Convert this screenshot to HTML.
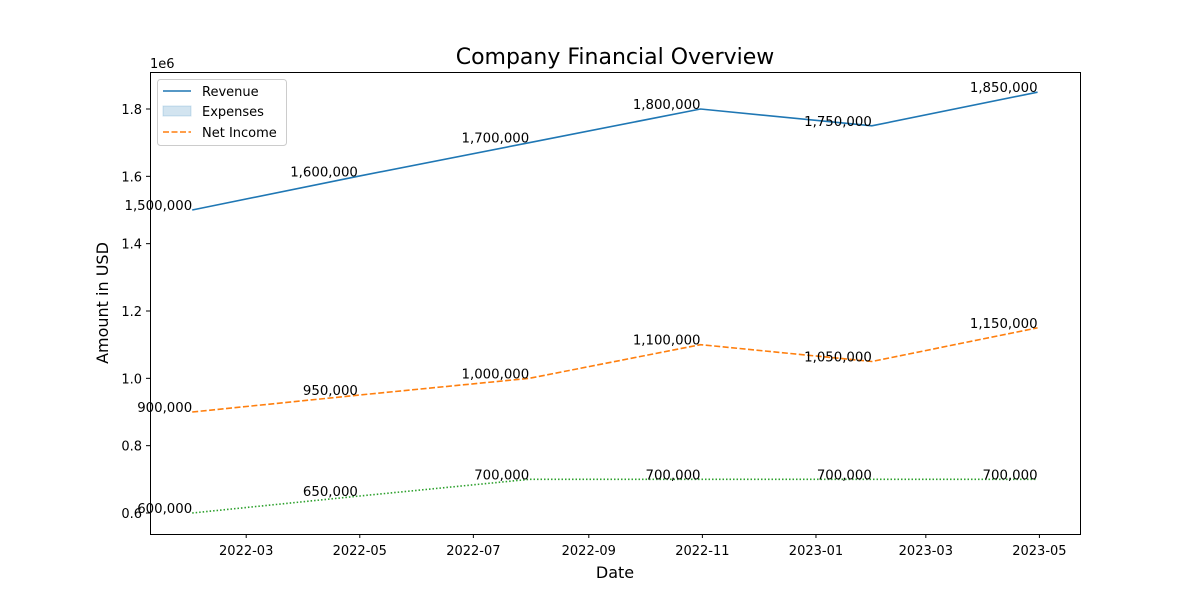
<!DOCTYPE html>
<html><head><meta charset="utf-8">
<style>
html,body{margin:0;padding:0;background:#fff;}
svg text{font-family:"DejaVu Sans","Liberation Sans",sans-serif;}
</style></head>
<body>
<svg id="chart" width="1200" height="600" xmlns="http://www.w3.org/2000/svg">
<rect width="1200" height="600" fill="#fff"/>
<text x="615" y="64" font-size="22" text-anchor="middle">Company Financial Overview</text>
<text x="615" y="578" font-size="16" text-anchor="middle">Date</text>
<text x="108" y="303" font-size="16" text-anchor="middle" transform="rotate(-90 108 303)">Amount in USD</text>
<text x="150" y="68" font-size="13">1e6</text>
<g id="grid"></g>
<g id="series"></g>
<rect x="150.5" y="72.5" width="930" height="462" fill="none" stroke="#000" stroke-width="1"/>
<g>
<rect x="157.5" y="79.5" width="129" height="66" rx="3" fill="#fff" fill-opacity="0.8" stroke="#ccc"/>
<line x1="163" y1="91" x2="191" y2="91" stroke="#1f77b4" stroke-width="1.6"/>
<text x="202" y="96" font-size="13">Revenue</text>
<rect x="163" y="106" width="28" height="10" fill="#1f77b4" fill-opacity="0.2" stroke="#1f77b4" stroke-opacity="0.2"/>
<text x="202" y="116" font-size="13">Expenses</text>
<line x1="163" y1="132" x2="191" y2="132" stroke="#ff7f0e" stroke-width="1.6" stroke-dasharray="6,2.5"/>
<text x="202" y="137" font-size="13">Net Income</text>
</g>
</svg>
<script>
const dates = ["2022-01-31","2022-04-30","2022-07-31","2022-10-31","2023-01-31","2023-04-30"];
const revenue = [1500000,1600000,1700000,1800000,1750000,1850000];
const netIncome = [900000,950000,1000000,1100000,1050000,1150000];
const expenses = [600000,650000,700000,700000,700000,700000];
const xTickLabels = ["2022-03","2022-05","2022-07","2022-09","2022-11","2023-01","2023-03","2023-05"];
const yTicks = [0.6,0.8,1.0,1.2,1.4,1.6,1.8];

const NS="http://www.w3.org/2000/svg";
const base=Date.UTC(2022,0,31);
function dayNum(s){const p=s.split("-").map(Number);return (Date.UTC(p[0],p[1]-1,p[2]||1)-base)/86400000;}
function X(s){return 192.2+dayNum(s)*1.862;}
function Y(v){return 513-(v/1e6-0.6)*336.67;}
const grid=document.getElementById("grid"), ser=document.getElementById("series");
function mk(tag,attrs,parent){const e=document.createElementNS(NS,tag);for(const k in attrs)e.setAttribute(k,attrs[k]);parent.appendChild(e);return e;}

xTickLabels.forEach(l=>{
  const x=X(l+"-01");
  const t=mk("line",{x1:x,y1:534.5,x2:x,y2:538,stroke:"#000"},grid);
  
  
  const tx=mk("text",{x:x,y:555,"font-size":13,"text-anchor":"middle"},grid);
  tx.textContent=l;
  
  
});
yTicks.forEach(v=>{
  const y=Y(v*1e6);
  const t=mk("line",{x1:146,y1:y,x2:150.5,y2:y,stroke:"#000"},grid);
  
  
  const tx=mk("text",{x:142,y:y+5,"font-size":13,"text-anchor":"end"},grid);
  tx.textContent=v.toFixed(1);
  
  
});
function series(vals,color,dash,name){
  const pts=vals.map((v,i)=>X(dates[i])+","+Y(v)).join(" ");
  const pl=mk("polyline",{points:pts,fill:"none",stroke:color,"stroke-width":1.6},ser);
  if(dash)pl.setAttribute("stroke-dasharray",dash);
  
  
  vals.forEach((v,i)=>{
    const t=mk("text",{x:X(dates[i]),y:Y(v),"font-size":13.3,"text-anchor":"end"},ser);
    t.textContent=v.toLocaleString("en-US");
    
    
  });
}
series(revenue,"#1f77b4",null,"revenue");
series(netIncome,"#ff7f0e","6,2.5","net-income");
series(expenses,"#2ca02c","1.5,2","expenses");
</script>
</body></html>
